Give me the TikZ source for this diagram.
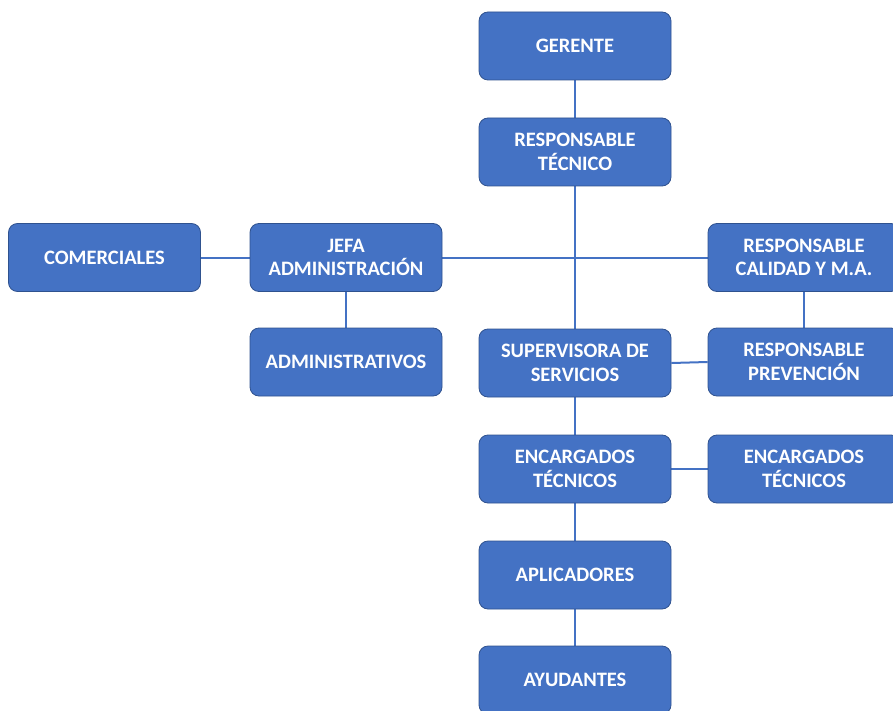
\documentclass[tikz,border=0pt]{standalone}
\usepackage{fontspec}
\setmainfont{Carlito}
\usetikzlibrary{backgrounds}
\definecolor{boxblue}{HTML}{4472C4}
\definecolor{boxedge}{HTML}{2F528F}
\begin{document}
\begin{tikzpicture}[x=1pt,y=-1pt,
  box/.style={draw=boxedge, line width=0.8pt, fill=boxblue, rounded corners=9pt,
    minimum width=192pt, minimum height=68pt, text=white,
    font=\fontsize{20.5}{23.5}\selectfont\bfseries, align=center, inner sep=0pt},
  link/.style={draw=boxblue, line width=2pt}]
\useasboundingbox (0,0) rectangle (893,711);
\node[box] (ger) at (575,46) {GERENTE};
\node[box] (tec) at (575,152) {RESPONSABLE\\TÉCNICO};
\node[box] (com) at (104.5,257.5) {COMERCIALES};
\node[box] (jefa) at (346,257.5) {JEFA\\ADMINISTRACIÓN};
\node[box] (cal) at (804,257.5) {RESPONSABLE\\CALIDAD Y M.A.};
\node[box] (adm) at (346,362) {ADMINISTRATIVOS};
\node[box] (sup) at (575,363) {SUPERVISORA DE\\SERVICIOS};
\node[box] (prev) at (804,362) {RESPONSABLE\\PREVENCIÓN};
\node[box] (enc) at (575,469) {ENCARGADOS\\TÉCNICOS};
\node[box] (enc2) at (804,469) {ENCARGADOS\\TÉCNICOS};
\node[box] (apl) at (575,575) {APLICADORES};
\node[box] (ayu) at (575,680) {AYUDANTES};
\begin{pgfonlayer}{background}
\draw[link] (ger) -- (tec);
\draw[link] (tec) -- (sup);
\draw[link] (com) -- (jefa);
\draw[link] (jefa.east) -- (cal.west);
\draw[link] (jefa) -- (adm);
\draw[link] (cal) -- (prev);
\draw[link] (sup.east) -- (prev.west);
\draw[link] (sup) -- (enc);
\draw[link] (enc) -- (enc2);
\draw[link] (enc) -- (apl);
\draw[link] (apl) -- (ayu);
\end{pgfonlayer}
\end{tikzpicture}
\end{document}
